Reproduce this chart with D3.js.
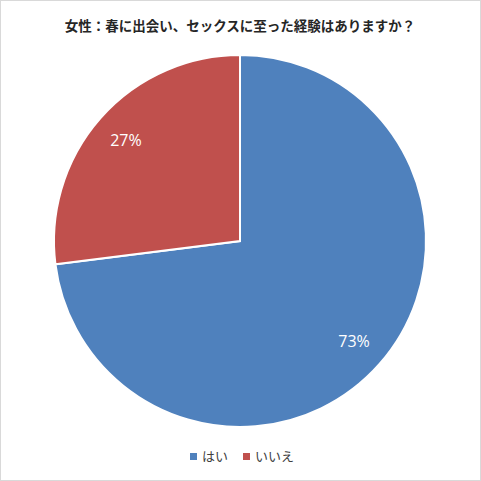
<!DOCTYPE html>
<html>
<head>
<meta charset="utf-8">
<script src="https://cdn.jsdelivr.net/npm/d3@7"></script>
<style>
  body { margin: 0; background: #fff; }
  svg { display: block; font-family: "Noto Sans CJK JP", "Noto Sans", sans-serif; }
</style>
</head>
<body>
<div id="chart"></div>
<script>
// chart data
const title = "女性：春に出会い、セックスに至った経験はありますか？";
const categories = ["はい", "いいえ"];
const values = [73, 27];
const colors = ["#4F81BD", "#C0504D"];

const width = 481, height = 481;
const cx = 240, cy = 241, radius = 186;

const svg = d3.select("#chart")
    .append("svg")
    .attr("width", width)
    .attr("height", height);

// outer chart frame
svg.append("rect")
    .attr("x", 0.5).attr("y", 0.5)
    .attr("width", width - 1).attr("height", height - 1)
    .attr("fill", "#fff")
    .attr("stroke", "#d9d9d9");

svg.append("text")
    .attr("x", 240)
    .attr("y", 31)
    .attr("text-anchor", "middle")
    .attr("font-size", "13.5px")
    .attr("font-weight", "bold")
    .attr("fill", "#262626")
    .text(title);

const pie = d3.pie().sort(null).value(d => d);
const arcs = pie(values);
const arc = d3.arc().innerRadius(0).outerRadius(radius);
const labelArc = d3.arc().innerRadius(152).outerRadius(152);

const g = svg.append("g").attr("transform", `translate(${cx},${cy})`);

g.selectAll("path")
    .data(arcs)
    .enter()
    .append("path")
    .attr("d", arc)
    .attr("fill", (d, i) => colors[i])
    .attr("stroke", "#fff")
    .attr("stroke-width", 2);

g.selectAll("text")
    .data(arcs)
    .enter()
    .append("text")
    .attr("transform", d => `translate(${labelArc.centroid(d)})`)
    .attr("text-anchor", "middle")
    .attr("dy", "0.35em")
    .attr("fill", "#fff")
    .attr("font-family", "'Open Sans', 'Noto Sans', sans-serif")
    .attr("font-size", "16px")
    .text(d => d.data + "%");

// legend
const legendX = [190, 243];
const legend = svg.append("g");
categories.forEach(function(c, i) {
    legend.append("rect")
        .attr("x", legendX[i])
        .attr("y", 453)
        .attr("width", 7)
        .attr("height", 7)
        .attr("fill", colors[i]);
    legend.append("text")
        .attr("x", legendX[i] + 12)
        .attr("y", 456.5)
        .attr("dy", "0.35em")
        .attr("font-size", "13px")
        .attr("fill", "#404040")
        .text(c);
});
</script>
</body>
</html>
